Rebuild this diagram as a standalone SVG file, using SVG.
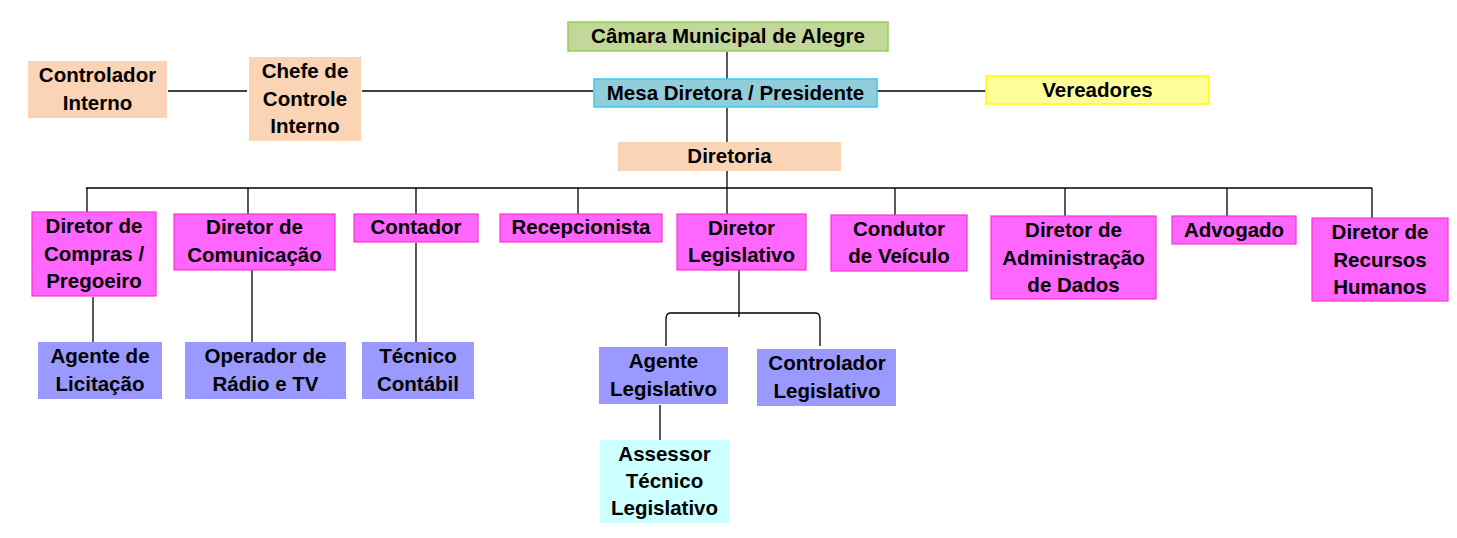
<svg xmlns="http://www.w3.org/2000/svg" width="1457" height="538" viewBox="0 0 1457 538">
<style>
text{font-family:"Liberation Sans",Arial,sans-serif;font-weight:bold;font-size:20.5px;fill:#000;text-anchor:middle}
.peach{fill:#FAD4B4}
.green{fill:#C4D79B;stroke:#92D050;stroke-width:1.5}
.cyan{fill:#92CDDC;stroke:#33CCEE;stroke-width:1.5}
.yellow{fill:#FFFF99;stroke:#FFFF00;stroke-width:1.5}
.pink{fill:#FF66FF;stroke:#FF33CC;stroke-width:1.2}
.blue{fill:#9999FF}
.lcyan{fill:#CCFFFF}
#connectors path,#connectors line{stroke:#000;stroke-width:1.3;fill:none}
</style>
<rect width="1457" height="538" fill="#fff"/>
<g id="connectors">
<line x1="727" y1="52" x2="727" y2="80"/>
<line x1="727" y1="108" x2="727" y2="142"/>
<line x1="727" y1="171" x2="727" y2="188"/>
<line x1="168" y1="91" x2="247" y2="91"/>
<line x1="362" y1="91" x2="593" y2="91"/>
<line x1="877" y1="91" x2="986" y2="91"/>
<line x1="86" y1="188" x2="1372" y2="188"/>
<line x1="87" y1="188" x2="87" y2="212"/>
<line x1="248" y1="188" x2="248" y2="214"/>
<line x1="416" y1="188" x2="416" y2="214"/>
<line x1="578" y1="188" x2="578" y2="214"/>
<line x1="727" y1="188" x2="727" y2="214"/>
<line x1="895" y1="188" x2="895" y2="215"/>
<line x1="1065" y1="188" x2="1065" y2="216"/>
<line x1="1227" y1="188" x2="1227" y2="216"/>
<line x1="1372" y1="188" x2="1372" y2="218"/>
<line x1="93" y1="297" x2="93" y2="342"/>
<line x1="252" y1="270" x2="252" y2="342"/>
<line x1="416" y1="243" x2="416" y2="342"/>
<line x1="739" y1="270" x2="739" y2="317"/>
<path d="M666,346 L666,320 Q666,313 670,313 L816,313 Q820,313 820,320 L820,346"/>
<line x1="660" y1="405" x2="660" y2="440"/>
</g>
<g id="camara"><rect class="green" x="568" y="22" width="320" height="29"/><text x="728" y="43">Câmara Municipal de Alegre</text></g>
<g id="mesa"><rect class="cyan" x="594" y="79" width="283" height="28"/><text x="735.5" y="100">Mesa Diretora / Presidente</text></g>
<g id="vereadores"><rect class="yellow" x="986" y="76" width="223" height="28"/><text x="1097.5" y="97">Vereadores</text></g>
<g id="controlador-interno"><rect class="peach" x="28" y="61" width="139" height="57"/><text x="97.5" y="82">Controlador</text><text x="97.5" y="110">Interno</text></g>
<g id="chefe-controle"><rect class="peach" x="249" y="57" width="112" height="84"/><text x="305" y="78">Chefe de</text><text x="305" y="106">Controle</text><text x="305" y="133">Interno</text></g>
<g id="diretoria"><rect class="peach" x="618" y="142" width="223" height="29"/><text x="729.5" y="163">Diretoria</text></g>
<g id="dir-compras"><rect class="pink" x="32" y="212" width="124" height="84"/><text x="94" y="233">Diretor de</text><text x="94" y="261">Compras /</text><text x="94" y="288">Pregoeiro</text></g>
<g id="dir-comunicacao"><rect class="pink" x="174" y="214" width="161" height="56"/><text x="254.5" y="234">Diretor de</text><text x="254.5" y="262">Comunicação</text></g>
<g id="contador"><rect class="pink" x="354" y="214" width="124" height="28"/><text x="416" y="234">Contador</text></g>
<g id="recepcionista"><rect class="pink" x="500" y="214" width="162" height="28"/><text x="581" y="234">Recepcionista</text></g>
<g id="dir-legislativo"><rect class="pink" x="677" y="214" width="129" height="56"/><text x="741.5" y="235">Diretor</text><text x="741.5" y="262">Legislativo</text></g>
<g id="condutor"><rect class="pink" x="831" y="215" width="136" height="56"/><text x="899" y="236">Condutor</text><text x="899" y="263">de Veículo</text></g>
<g id="dir-admin"><rect class="pink" x="991" y="216" width="165" height="83"/><text x="1073.5" y="237">Diretor de</text><text x="1073.5" y="265">Administração</text><text x="1073.5" y="292">de Dados</text></g>
<g id="advogado"><rect class="pink" x="1172" y="216" width="124" height="28"/><text x="1234" y="237">Advogado</text></g>
<g id="dir-rh"><rect class="pink" x="1312" y="218" width="136" height="83"/><text x="1380" y="239">Diretor de</text><text x="1380" y="267">Recursos</text><text x="1380" y="294">Humanos</text></g>
<g id="agente-licitacao"><rect class="blue" x="38" y="342" width="124" height="57"/><text x="100" y="363">Agente de</text><text x="100" y="391">Licitação</text></g>
<g id="operador"><rect class="blue" x="185" y="342" width="161" height="57"/><text x="265.5" y="363">Operador de</text><text x="265.5" y="391">Rádio e TV</text></g>
<g id="tecnico-contabil"><rect class="blue" x="362" y="342" width="112" height="57"/><text x="418" y="363">Técnico</text><text x="418" y="391">Contábil</text></g>
<g id="agente-legislativo"><rect class="blue" x="599" y="347" width="129" height="57"/><text x="663.5" y="368">Agente</text><text x="663.5" y="396">Legislativo</text></g>
<g id="controlador-legislativo"><rect class="blue" x="757" y="349" width="139" height="57"/><text x="827" y="370">Controlador</text><text x="827" y="398">Legislativo</text></g>
<g id="assessor"><rect class="lcyan" x="600" y="440" width="129" height="83"/><text x="664.5" y="461">Assessor</text><text x="664.5" y="488">Técnico</text><text x="664.5" y="515">Legislativo</text></g>
</svg>
